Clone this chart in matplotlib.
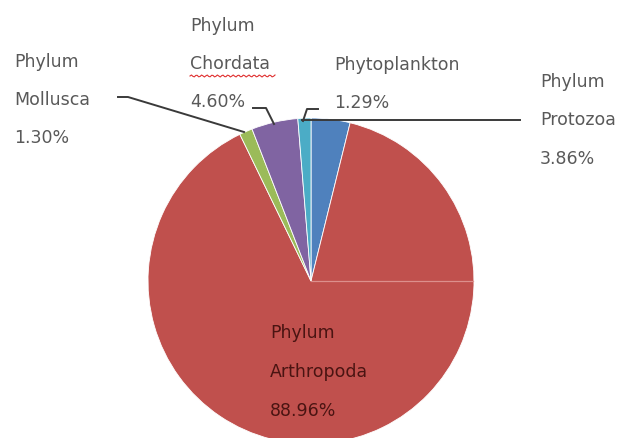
import numpy as np
import matplotlib
matplotlib.use("Agg")
import matplotlib.pyplot as plt

# Data (clockwise from 12 o'clock)
categories = ["Phylum Protozoa", "Phylum Arthropoda", "Phylum Mollusca", "Phylum Chordata", "Phytoplankton"]
values = [3.86, 88.96, 1.30, 4.60, 1.29]
colors = ["#4F81BD", "#C0504D", "#9BBB59", "#8064A2", "#4BACC6"]
label_lines = {
    "Phylum Protozoa": ["Phylum", "Protozoa", "3.86%"],
    "Phylum Arthropoda": ["Phylum", "Arthropoda", "88.96%"],
    "Phylum Mollusca": ["Phylum", "Mollusca", "1.30%"],
    "Phylum Chordata": ["Phylum", "Chordata", "4.60%"],
    "Phytoplankton": ["Phytoplankton", "1.29%"],
}

W, H = 619, 439
fig = plt.figure(figsize=(W / 100, H / 100), dpi=100)
ax = fig.add_axes([0, 0, 1, 1])

def Y(py):
    return H - py

cx, cy, r = 311, 282, 163
ax.pie(values, colors=colors, startangle=90, counterclock=False,
       center=(cx, Y(cy)), radius=r, frame=True,
       wedgeprops=dict(edgecolor="white", linewidth=0.6))
ax.set_xlim(0, W)
ax.set_ylim(0, H)
ax.set_aspect("equal")
ax.axis("off")

# faint line inside the big slice
ax.plot([cx, cx + r - 1], [Y(cy), Y(cy)], color="#dc8f8c", lw=0.9, zorder=5)

txt_col = "#595959"
fs = 12.5

def put(lines, x, ys, color=txt_col):
    for s, y in zip(lines, ys):
        ax.text(x, Y(y), s, fontsize=fs, color=color,
                ha="left", va="center", family="DejaVu Sans")

put(label_lines["Phylum Mollusca"], 14, [62, 100, 138])
put(label_lines["Phylum Chordata"], 190, [26, 64, 102])
put(label_lines["Phytoplankton"], 334, [65, 103])
put(label_lines["Phylum Protozoa"], 540, [82, 120, 159])
put(label_lines["Phylum Arthropoda"], 270, [333, 372, 411], color="#4a1412")

# red spell-check squiggle under "Chordata"
xs = np.linspace(190, 275, 60)
ax.plot(xs, Y(77) + 1.0 * np.sin((xs - 190) * 1.2), color="#e03030", lw=0.8)

# leader lines
lc = "#3a3a3a"
lw = 1.4
ax.plot([118, 128, 244], [Y(98), Y(98), Y(133)], color=lc, lw=lw)
ax.plot([253, 266, 274], [Y(109), Y(109), Y(125)], color=lc, lw=lw)
ax.plot([318, 307, 303], [Y(110), Y(110), Y(122)], color=lc, lw=lw)
ax.plot([302, 520], [Y(121), Y(121)], color=lc, lw=lw)

fig.savefig("out.png", dpi=100, facecolor="white")
